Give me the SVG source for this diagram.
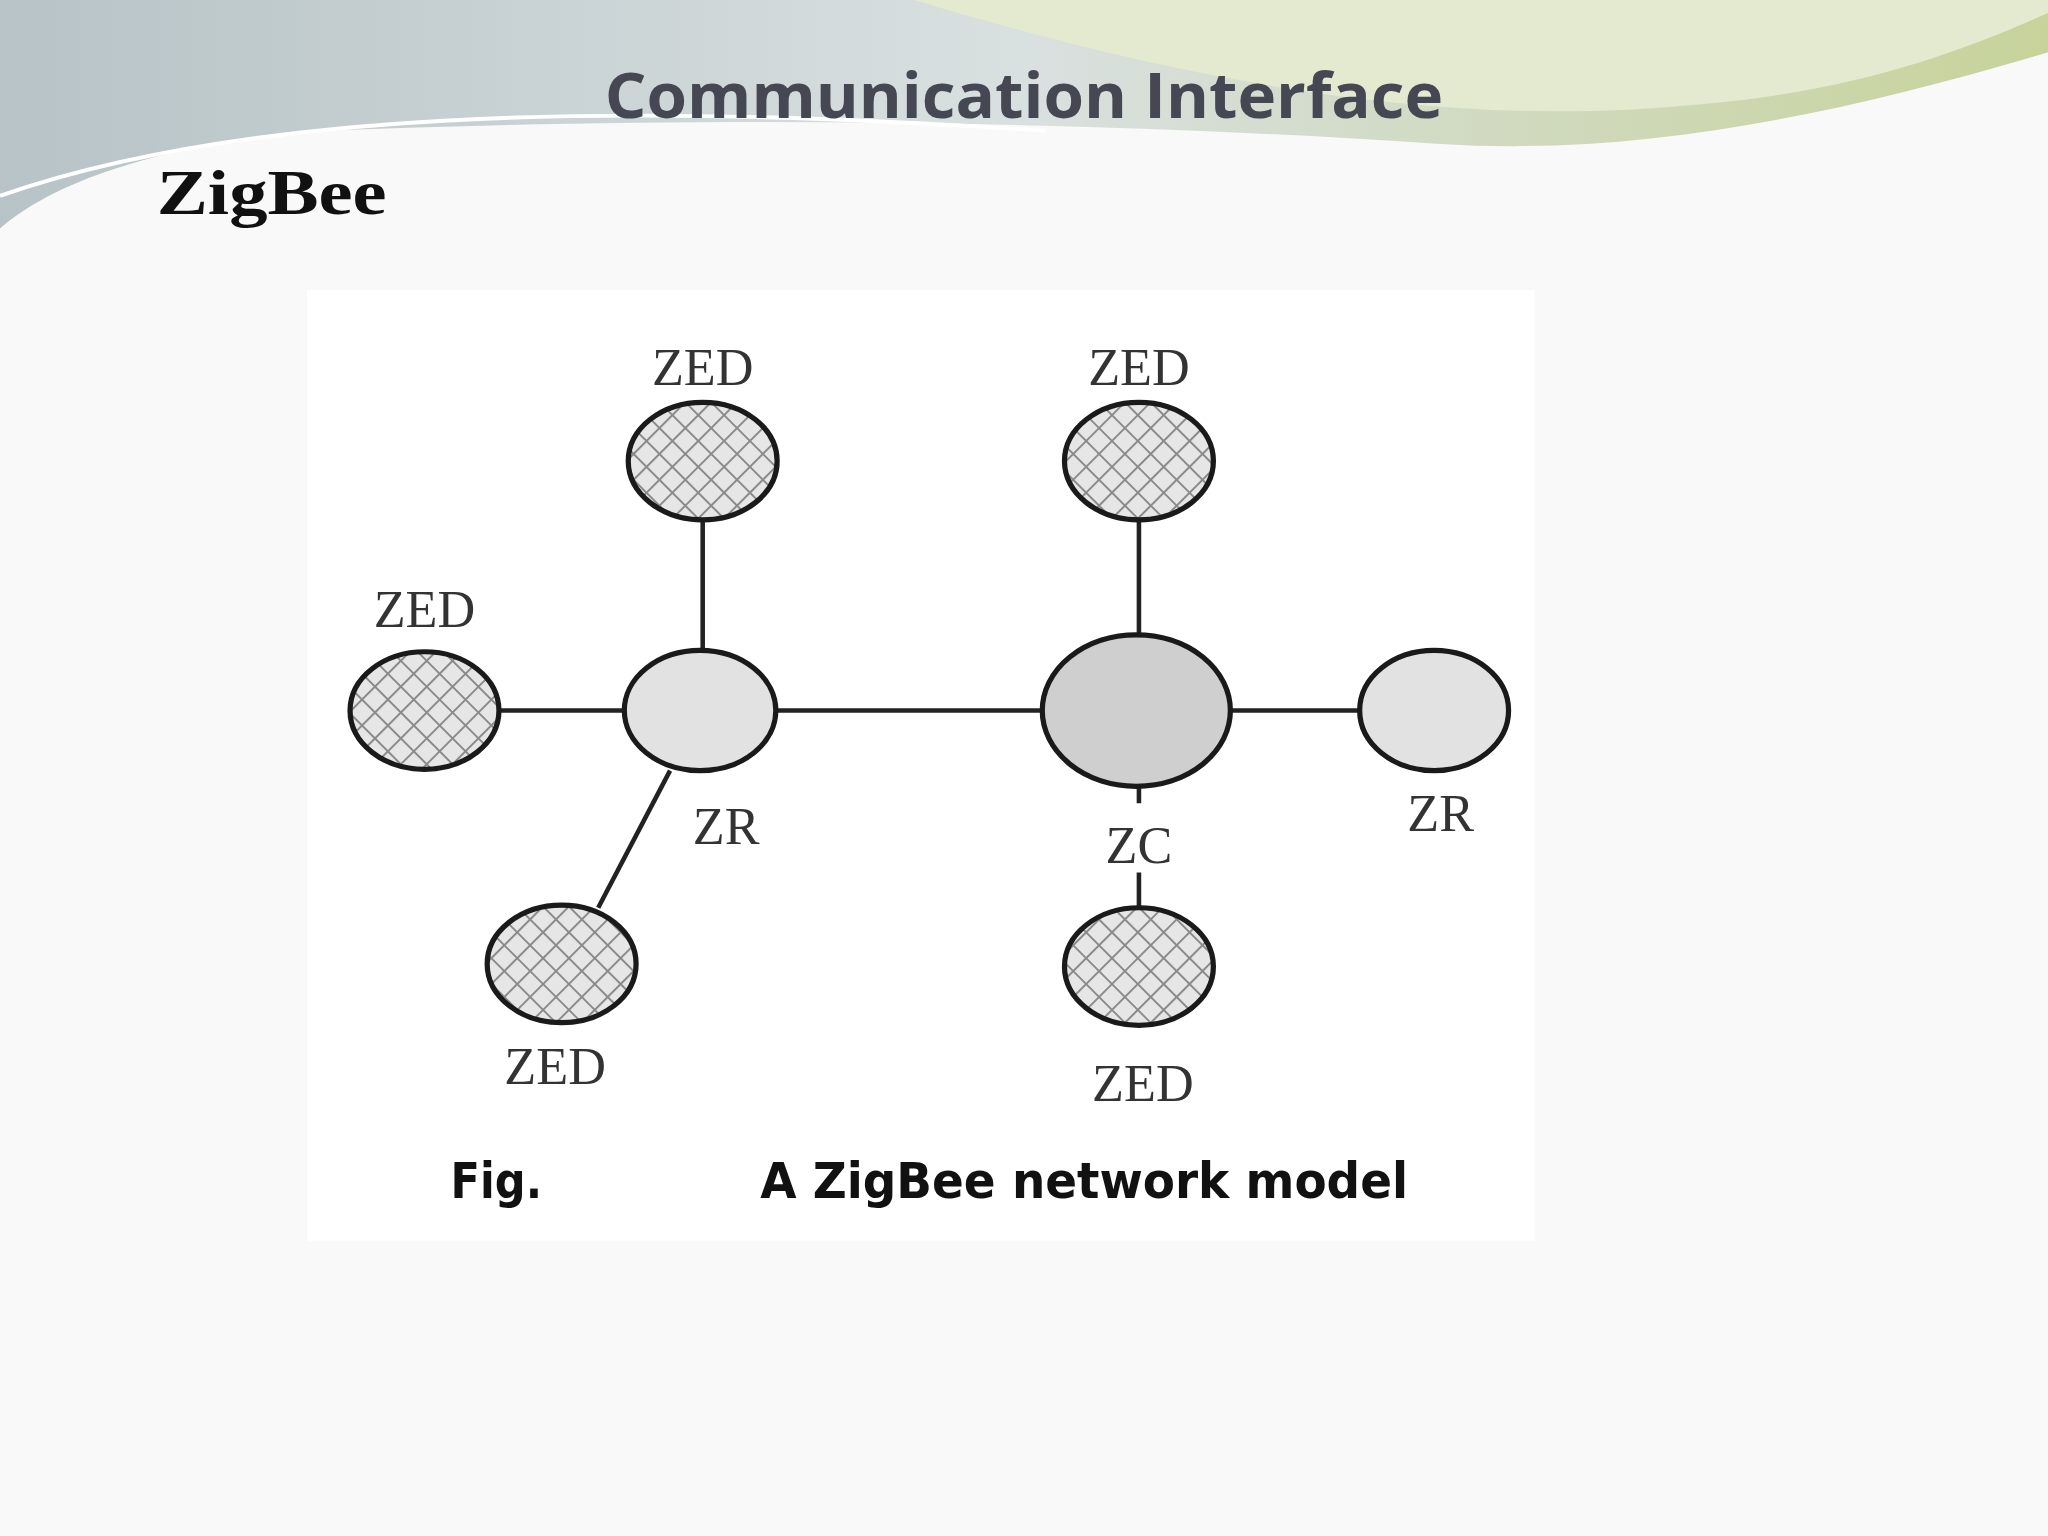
<svg xmlns="http://www.w3.org/2000/svg" width="2048" height="1536" viewBox="0 0 2048 1536">
<defs>
<pattern id="hatch" width="14" height="14" patternUnits="userSpaceOnUse" patternTransform="rotate(45)">
<rect width="14" height="14" fill="#e6e6e6"/>
<path d="M0 0H14M0 0V14" stroke="#8a8a8a" stroke-width="3"/>
</pattern>
<linearGradient id="sw" x1="0" y1="0" x2="1" y2="0">
<stop offset="0" stop-color="#b7c3c7"/><stop offset="0.5" stop-color="#d9e0e0"/><stop offset="1" stop-color="#c7d39a"/>
</linearGradient>
<style>
.e{stroke:#1a1a1a;stroke-width:4}
.l{stroke:#222;stroke-width:3.5;fill:none}
.t{font-family:"Liberation Serif",serif;font-size:40px;fill:#333;text-anchor:middle}
</style>
</defs>
<g transform="scale(1.30612)">
<rect width="1568" height="1176" fill="#f8f9f8"/>
<path d="M0 0H1568V40C1400 90 1250 120 1100 110C800 90 500 90 250 100C120 110 40 140 0 175Z" fill="url(#sw)"/>
<path d="M700 0C900 60 1100 100 1300 80C1420 70 1500 40 1568 10V0Z" fill="#e4ead0"/>
<path d="M0 150C200 80 500 80 800 100" stroke="#fff" stroke-width="3" fill="none"/>
<text x="784" y="90" font-family="Open Sans,sans-serif" font-weight="bold" font-size="48" fill="#454852" text-anchor="middle" textLength="642" lengthAdjust="spacingAndGlyphs">Communication Interface</text>
<text x="120" y="164" font-family="Liberation Serif,serif" font-weight="bold" font-size="48" fill="#111" textLength="176" lengthAdjust="spacingAndGlyphs">ZigBee</text>
<rect x="235" y="222" width="940" height="728" fill="#fff"/>
<g id="connectors">
<line class="l" x1="538" y1="398" x2="538" y2="498"/>
<line class="l" x1="872" y1="398" x2="872" y2="486"/>
<line class="l" x1="383" y1="544" x2="478" y2="544"/>
<line class="l" x1="594" y1="544" x2="798" y2="544"/>
<line class="l" x1="942" y1="544" x2="1041" y2="544"/>
<line class="l" x1="513" y1="590" x2="458" y2="695"/>
<line class="l" x1="872" y1="602" x2="872" y2="615"/>
<line class="l" x1="872" y1="668" x2="872" y2="694"/>
</g>
<g id="zed1"><ellipse class="e" cx="538" cy="353" rx="57" ry="45" fill="url(#hatch)"/><text class="t" x="538" y="295">ZED</text></g>
<g id="zed2"><ellipse class="e" cx="872" cy="353" rx="57" ry="45" fill="url(#hatch)"/><text class="t" x="872" y="295">ZED</text></g>
<g id="zed3"><ellipse class="e" cx="325" cy="544" rx="57" ry="45" fill="url(#hatch)"/><text class="t" x="325" y="480">ZED</text></g>
<g id="zr1"><ellipse class="e" cx="536" cy="544" rx="58" ry="46" fill="#e2e2e2"/><text class="t" x="556" y="646">ZR</text></g>
<g id="zc"><ellipse class="e" cx="870" cy="544" rx="72" ry="58" fill="#cfcfcf"/><text class="t" x="872" y="661">ZC</text></g>
<g id="zr2"><ellipse class="e" cx="1098" cy="544" rx="57" ry="46" fill="#e2e2e2"/><text class="t" x="1103" y="636">ZR</text></g>
<g id="zed4"><ellipse class="e" cx="430" cy="738" rx="57" ry="45" fill="url(#hatch)"/><text class="t" x="425" y="830">ZED</text></g>
<g id="zed5"><ellipse class="e" cx="872" cy="740" rx="57" ry="45" fill="url(#hatch)"/><text class="t" x="875" y="843">ZED</text></g>
<text x="345" y="917" font-family="DejaVu Sans Condensed,sans-serif" font-weight="bold" font-size="38" fill="#111" textLength="70" lengthAdjust="spacingAndGlyphs">Fig.</text>
<text x="582" y="917" font-family="DejaVu Sans Condensed,sans-serif" font-weight="bold" font-size="38" fill="#111" textLength="496" lengthAdjust="spacingAndGlyphs">A ZigBee network model</text>
</g>
</svg>
